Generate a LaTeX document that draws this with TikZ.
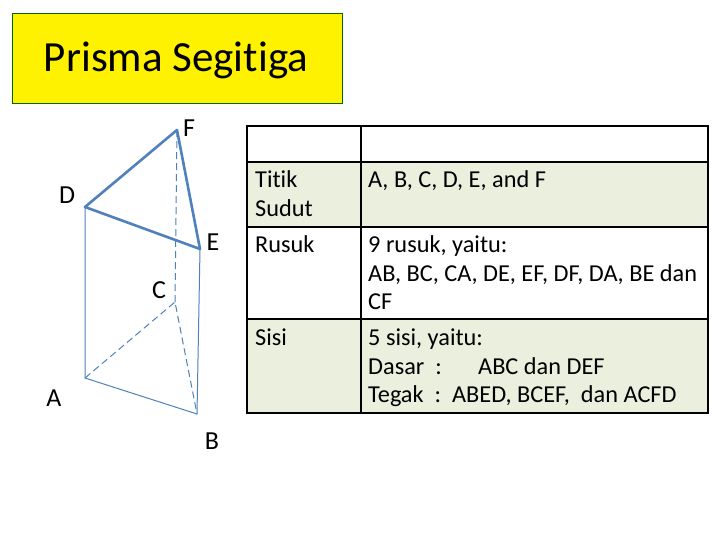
\documentclass[tikz,border=0pt]{standalone}
\usepackage{fontspec}
\setmainfont[Ligatures={NoCommon,NoRequired,NoContextual}]{Carlito}
\definecolor{steel}{RGB}{79,129,189}
\definecolor{cg}{RGB}{234,239,222}
\begin{document}
\begin{tikzpicture}[x=1pt,y=-1pt,
  txt/.style={anchor=base west,inner sep=0pt,font=\fontsize{24.3}{28}\selectfont},
  lbl/.style={inner sep=0pt,font=\fontsize{26}{30}\selectfont},
  edge/.style={draw=steel,line width=1pt},
  thick edge/.style={draw=steel,line width=2.6pt,line join=round},
  hid/.style={edge,dash pattern=on 7pt off 4pt},
  cellg/.style={fill=cg}]
\useasboundingbox (0,0) rectangle (720,540);
\fill[white] (0,0) rectangle (720,540);
% title
\node[draw=green!40!black,line width=0.8pt,fill=yellow,minimum width=330pt,minimum height=90pt,anchor=north west,inner sep=0pt] (title) at (12,13) {};
\node[inner sep=0pt,font=\fontsize{43}{48}\selectfont] (tt) at (176,60) {Prisma Segitiga};
% prism
\coordinate (A) at (85,378); \coordinate (B) at (197,414); \coordinate (C) at (175,302);
\coordinate (D) at (85,207); \coordinate (E) at (200,249); \coordinate (F) at (177,130);
\draw[edge] (D) -- (A) -- (B) -- (E);
\draw[hid] (A) -- (C) -- (B);
\draw[hid] (C) -- (F);
\draw[thick edge] (D) -- (E) -- (F) -- cycle;
\node[lbl] (lF) at (189,128) {F};
\node[lbl] (lD) at (67,195) {D};
\node[lbl] (lE) at (213,242) {E};
\node[lbl] (lC) at (159,290) {C};
\node[lbl] (lA) at (54,398) {A};
\node[lbl] (lB) at (212,441) {B};
% table
\fill[cellg] (247,162) rectangle (708,227);
\fill[cellg] (247,319) rectangle (708,413);
\draw[line width=1.4pt] (247,126) rectangle (708,413);
\draw[line width=1.4pt] (361,126) -- (361,413);
\foreach \yy in {162,227,319} \draw[line width=1.4pt] (247,\yy) -- (708,\yy);
\node[txt] (t1) at (255,188) {Titik};
\node[txt] (t2) at (255,217) {Sudut};
\node[txt] (t3) at (368,188) {A, B, C, D, E, and F};
\node[txt] (r1) at (255,252) {Rusuk};
\node[txt] (r2) at (368,252) {9 rusuk, yaitu:};
\node[txt] (r3) at (368,281) {AB, BC, CA, DE, EF, DF, DA, BE dan};
\node[txt] (r4) at (368,309) {CF};
\node[txt] (s1) at (255,345) {Sisi};
\node[txt] (s2) at (368,345) {5 sisi, yaitu:};
\node[txt] (s3) at (368,374) {Dasar\ \ :};
\node[txt] (s3b) at (478,374) {ABC dan DEF};
\node[txt] (s4) at (368,402) {Tegak\ \ :\ \ ABED, BCEF,\ \ dan ACFD};
\end{tikzpicture}
\end{document}
